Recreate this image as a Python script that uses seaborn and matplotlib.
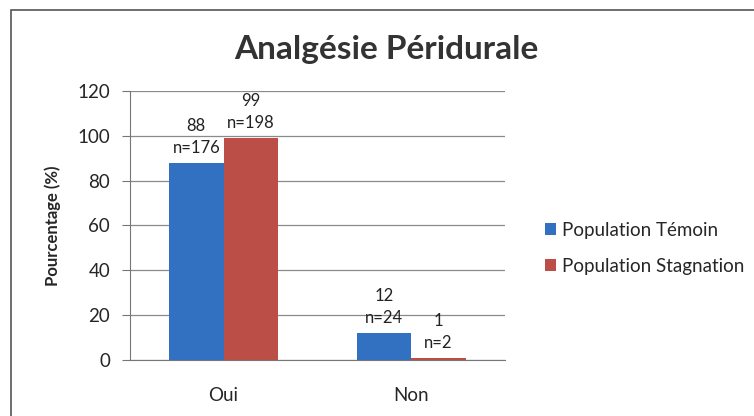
import matplotlib
matplotlib.use("Agg")
import matplotlib.pyplot as plt
import seaborn as sns
import pandas as pd
from matplotlib.patches import Rectangle

categories = ["Oui", "Non"]
groups = ["Population Témoin", "Population Stagnation"]
temoin_pct = [88, 12]
stagnation_pct = [99, 1]
temoin_n = [176, 24]
stagnation_n = [198, 2]

df = pd.DataFrame({
    "reponse": categories * 2,
    "population": [groups[0]] * 2 + [groups[1]] * 2,
    "pct": temoin_pct + stagnation_pct,
    "n": temoin_n + stagnation_n,
})

sns.set_style("white")
plt.rcParams["font.family"] = ["Lato", "DejaVu Sans"]

fig = plt.figure(figsize=(7.54, 4.16), dpi=100)
ax = fig.add_axes([0.172, 0.135, 0.498, 0.646])

palette = {groups[0]: "#3270c2", groups[1]: "#bb4f48"}
sns.barplot(data=df, x="reponse", y="pct", hue="population", order=categories,
            hue_order=groups, palette=palette, width=0.58, gap=0,
            saturation=1, linewidth=0, ax=ax, legend=True, zorder=3)

# data labels: value + count above each bar
for container, grp in zip(ax.containers, groups):
    sub = df[df["population"] == grp].set_index("reponse").loc[categories]
    labels = [f"{p}\nn={n}" for p, n in zip(sub["pct"], sub["n"])]
    ax.bar_label(container, labels=labels, padding=5, fontsize=12,
                 linespacing=1.45, color="#222222")

ax.set_ylim(0, 120)
ax.set_yticks(range(0, 121, 20))
ax.set_xlim(-0.5, 1.5)
ax.yaxis.grid(True, color="#8a8a8a", linewidth=0.9, zorder=0)
ax.set_axisbelow(True)
for side in ["top", "right"]:
    ax.spines[side].set_visible(False)
ax.spines["left"].set_color("#777777")
ax.spines["bottom"].set_color("#777777")
ax.tick_params(axis="y", left=True, length=6, color="#777777", labelsize=13.5, pad=8)
ax.tick_params(axis="x", bottom=False, labelsize=13.5, pad=16)
ax.set_xlabel("")
ax.set_ylabel("Pourcentage (%)", fontsize=12, fontweight="bold", labelpad=12)

handles, labels = ax.get_legend_handles_labels()
ax.get_legend().remove()
fig.legend(handles, labels, loc="center left", bbox_to_anchor=(0.7, 0.403),
           frameon=False, fontsize=13.5, handlelength=0.6, handleheight=0.6,
           handletextpad=0.3, labelspacing=1.0)

fig.text(0.513, 0.88, "Analgésie Péridurale", ha="center", va="center",
         fontsize=24, fontweight="bold", color="#333333")

fig.patches.append(Rectangle((0.014, -0.05), 1.2, 1.026, transform=fig.transFigure,
                             fill=False, edgecolor="#555555", linewidth=1.2))

fig.savefig("out.png", dpi=100)
